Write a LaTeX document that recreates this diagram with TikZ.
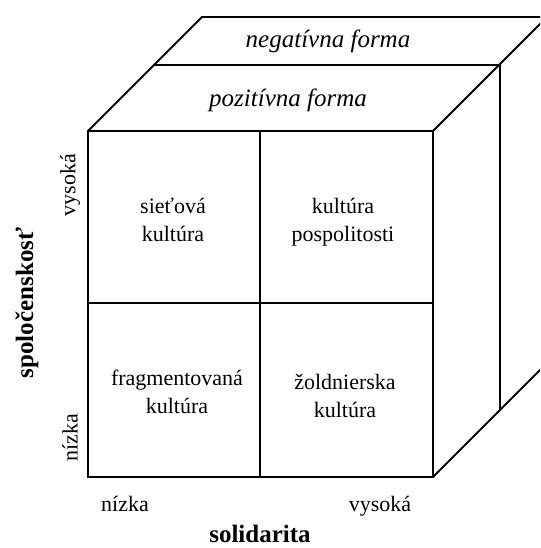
\documentclass[tikz,border=0pt]{standalone}
\usepackage{fontspec}
\setmainfont{Liberation Serif}
\begin{document}
\begin{tikzpicture}[x=1pt,y=-1pt,
  edge/.style={line width=1.8pt, line join=miter},
  frontedge/.style={line width=2.5pt},
  celltext/.style={font=\fontsize{22}{27.5}\selectfont, align=center, inner sep=0pt},
  formtext/.style={font=\fontsize{25}{30}\selectfont\itshape, inner sep=0pt},
  axtext/.style={font=\fontsize{22}{26}\selectfont, inner sep=0pt},
  axtitle/.style={font=\fontsize{25}{30}\selectfont\bfseries, inner sep=0pt}]
\useasboundingbox (0,0) rectangle (540,548);
\begin{scope}
\clip (0,0) rectangle (540,548);
% coordinates
\coordinate (fA) at (88,131);
\coordinate (fB) at (433,131);
\coordinate (fC) at (433,477);
\coordinate (fD) at (88,477);
\coordinate (mA) at (154,65);
\coordinate (mB) at (500,65);
\coordinate (mC) at (500,410);
\coordinate (bA) at (202,17);
\coordinate (bB) at (547,17);
\coordinate (bC) at (547,363);
% top and side outlines
\draw[edge] (fA) -- (bA) -- (bB) -- (fB);
\draw[edge] (mA) -- (mB) -- (mC);
\draw[edge] (bB) -- (bC) -- (fC);
% front face
\fill[white] (fA) rectangle (fC);
\draw[frontedge] (fA) rectangle (fC);
\draw[frontedge] (260,131) -- (260,477);
\draw[frontedge] (88,303) -- (433,303);
\end{scope}
% texts
\node[formtext] (neg) at (328,41) {negatívna forma};
\node[formtext] (poz) at (288,100) {pozitívna forma};
\node[celltext] (c1) at (173,220) {sieťová\\kultúra};
\node[celltext] (c2) at (343,222) {kultúra\\pospolitosti};
\node[celltext] (c3) at (177,392) {fragmentovaná\\kultúra};
\node[celltext] (c4) at (345,396) {žoldnierska\\kultúra};
\node[axtext, rotate=90] (yhi) at (70,185) {vysoká};
\node[axtext, rotate=90] (ylo) at (70,438) {nízka};
\node[axtitle, rotate=90] (ytit) at (27,303) {spoločenskosť};
\node[axtext, anchor=base] (xlo) at (125,511) {nízka};
\node[axtext, anchor=base] (xhi) at (380,511) {vysoká};
\node[axtitle] (xtit) at (260,534) {solidarita};
\end{tikzpicture}
\end{document}
